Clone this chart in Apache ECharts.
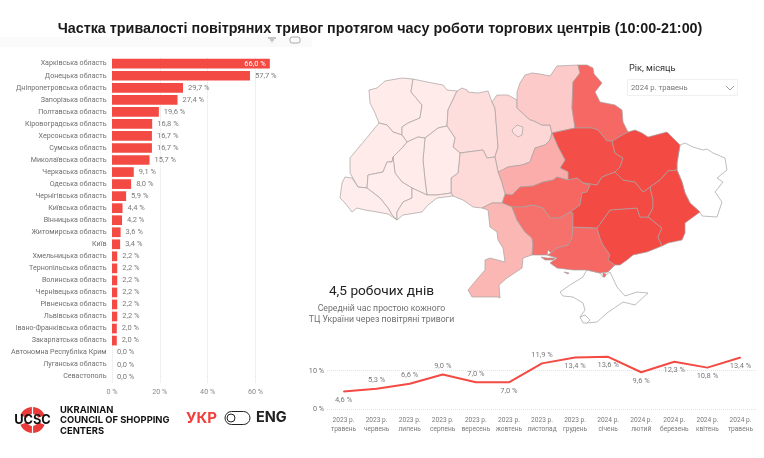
<!DOCTYPE html>
<html><head><meta charset="utf-8">
<style>html,body{margin:0;padding:0;background:#fff}#c{width:764px;height:458px}</style>
<script src="https://cdn.jsdelivr.net/npm/echarts@6/dist/echarts.min.js"></script>
</head><body><div id="c"></div>
<script>
const regions = ['Харківська область','Донецька область','Дніпропетровська область','Запорізька область','Полтавська область','Кіровоградська область','Херсонська область','Сумська область','Миколаївська область','Черкаська область','Одеська область','Чернігівська область','Київська область','Вінницька область','Житомирська область','Київ','Хмельницька область','Тернопільська область','Волинська область','Чернівецька область','Рівненська область','Львівська область','Івано-Франківська область','Закарпатська область','Автономна Республіка Крим','Луганська область','Севастополь'];
const regionShares = [66.0,57.7,29.7,27.4,19.6,16.8,16.7,16.7,15.7,9.1,8.0,5.9,4.4,4.2,3.6,3.4,2.2,2.2,2.2,2.2,2.2,2.2,2.0,2.0,0,0,0];
const months = ['2023 р.\nтравень','2023 р.\nчервень','2023 р.\nлипень','2023 р.\nсерпень','2023 р.\nвересень','2023 р.\nжовтень','2023 р.\nлистопад','2023 р.\nгрудень','2024 р.\nсічень','2024 р.\nлютий','2024 р.\nберезень','2024 р.\nквітень','2024 р.\nтравень'];
const monthlyShares = [4.6,5.3,6.6,9.0,7.0,7.0,11.9,13.4,13.6,9.6,12.3,10.8,13.4];
const monthlyLabelSides = ['bottom','top','top','top','top','bottom','top','bottom','bottom','bottom','bottom','bottom','bottom'];
const colorCap = 20;

// Base-map outlines (map geometry, not data)
const outlines = {
'Луганська область':[[[680,145],[685,143],[693,147],[703,150],[707,149],[713,153],[725,158],[727,170],[717,178],[723,182],[715,192],[722,202],[717,217],[702,216],[700,212],[690,203],[685,193],[682,182],[677,170],[677,163]]],
'Автономна Республіка Крим':[[[585,273],[583,277],[570,285],[560,292],[563,296],[573,297],[583,303],[585,310],[580,317],[587,323],[597,322],[607,313],[623,302],[635,305],[648,293],[637,292],[625,296],[617,287],[610,272],[603,277],[600,273],[587,270]]],
'Севастополь':[[[580,317],[583,323],[587,323],[590,320],[585,315]]],
'Волинська область':[[[369,90],[377,88],[385,81],[402,78],[413,79],[411,92],[422,105],[420,118],[408,123],[402,127],[402,135],[393,132],[387,125],[379,123],[375,113],[370,103]]],
'Рівненська область':[[[413,79],[427,82],[443,85],[447,90],[457,91],[448,110],[447,126],[438,128],[425,138],[418,137],[407,142],[402,135],[402,127],[408,123],[420,118],[422,105],[411,92]]],
'Житомирська область':[[[457,91],[462,88],[467,90],[468,92],[478,93],[488,91],[492,102],[495,108],[498,147],[495,157],[487,158],[483,150],[460,153],[453,147],[455,138],[447,126],[448,110]]],
'Київська область':[[[492,102],[497,95],[508,95],[517,100],[517,108],[530,120],[532,120],[542,125],[550,125],[552,133],[550,140],[545,145],[535,148],[530,162],[522,165],[508,167],[500,172],[498,172],[495,157],[498,147],[495,108]]],
'Київ':[[[512,130],[517,125],[523,127],[522,135],[518,137],[513,133]]],
'Чернігівська область':[[[517,100],[517,92],[520,83],[525,75],[532,73],[540,74],[550,76],[557,66],[578,65],[580,73],[573,82],[572,108],[575,128],[552,133],[550,125],[542,125],[532,120],[530,120],[517,108]]],
'Сумська область':[[[578,65],[587,65],[593,68],[594,74],[602,83],[595,92],[600,102],[615,105],[622,110],[623,122],[628,132],[612,141],[607,141],[598,130],[592,128],[575,128],[572,108],[573,82],[580,73]]],
'Полтавська область':[[[552,133],[575,128],[592,128],[598,130],[607,141],[612,141],[615,153],[623,158],[620,167],[615,172],[602,177],[597,185],[583,183],[577,178],[568,180],[568,172],[560,168],[565,160],[558,147]]],
'Черкаська область':[[[498,172],[508,167],[522,165],[530,162],[535,148],[545,145],[550,140],[552,133],[558,147],[565,160],[560,168],[568,172],[568,180],[557,177],[553,180],[543,182],[533,186],[520,187],[512,195],[505,194],[502,183]]],
'Кіровоградська область':[[[502,203],[505,194],[512,195],[520,187],[533,186],[543,182],[553,180],[557,177],[568,180],[577,178],[583,183],[590,185],[587,192],[582,193],[580,205],[570,212],[560,218],[550,218],[543,208],[533,205],[523,207],[512,207]]],
'Вінницька область':[[[460,153],[483,150],[487,158],[495,157],[498,172],[502,183],[505,194],[502,203],[492,203],[482,208],[473,207],[463,200],[453,196],[451,193],[451,178],[458,173]]],
'Хмельницька область':[[[425,138],[438,128],[447,126],[455,138],[453,147],[460,153],[458,173],[451,178],[451,193],[437,195],[427,195],[425,180],[423,160]]],
'Тернопільська область':[[[407,142],[418,137],[425,138],[423,160],[425,180],[427,195],[412,188],[402,182],[395,173],[393,157],[402,148]]],
'Львівська область':[[[379,123],[387,125],[393,132],[402,135],[407,142],[402,148],[393,157],[392,162],[387,162],[383,172],[368,175],[367,188],[358,187],[350,173],[350,158],[365,140]]],
'Івано-Франківська область':[[[367,188],[368,175],[383,172],[387,162],[392,162],[393,157],[395,173],[402,182],[412,188],[412,198],[403,202],[397,212],[397,220],[392,215],[388,208],[380,198]]],
'Закарпатська область':[[[345,177],[352,178],[358,187],[367,188],[380,198],[388,208],[392,215],[397,220],[388,214],[377,212],[365,210],[357,208],[352,212],[345,203],[340,198],[342,183]]],
'Чернівецька область':[[[397,220],[397,212],[403,202],[412,198],[412,188],[427,195],[437,195],[451,193],[453,196],[437,198],[428,205],[422,212],[403,215]]],
'Одеська область':[[[482,208],[488,210],[490,227],[497,232],[498,240],[503,248],[505,262],[490,258],[485,260],[485,270],[478,278],[468,290],[472,297],[498,297],[500,298],[499,285],[507,278],[522,268],[523,258],[532,255],[533,245],[532,238],[525,232],[517,220],[512,207],[502,203],[492,203]]],
'Миколаївська область':[[[512,207],[523,207],[533,205],[543,208],[550,218],[560,218],[570,212],[573,213],[573,227],[572,238],[568,245],[557,248],[551,253],[548,250],[547,255],[540,255],[532,255],[533,245],[532,238],[525,232],[517,220]]],
'Херсонська область':[[[551,253],[557,248],[568,245],[572,238],[573,227],[587,228],[597,228],[600,238],[603,245],[610,255],[608,260],[615,265],[608,272],[600,273],[587,270],[573,270],[557,268],[550,263],[557,258],[547,255]],[[541,257],[547,258],[555,258],[553,260],[545,260]],[[564,272],[569,273],[568,274]],[[603,273],[606,274],[605,277],[603,277]]],
'Запорізька область':[[[597,228],[610,210],[637,208],[640,217],[648,217],[662,228],[658,237],[662,246],[647,252],[633,255],[627,260],[620,265],[615,265],[608,260],[610,255],[603,245],[600,238]]],
'Дніпропетровська область':[[[583,183],[597,185],[602,177],[615,172],[623,180],[635,182],[643,192],[650,187],[653,200],[653,208],[648,217],[640,217],[637,208],[610,210],[597,228],[573,227],[573,213],[570,212],[580,205],[582,193],[587,192],[590,185]]],
'Харківська область':[[[612,141],[628,132],[635,130],[642,133],[648,137],[667,132],[680,145],[677,163],[677,170],[668,171],[660,180],[650,187],[643,192],[635,182],[623,180],[615,172],[620,167],[623,158],[615,153]]],
'Донецька область':[[[668,171],[677,170],[682,182],[685,193],[690,203],[700,212],[685,223],[685,233],[682,240],[668,243],[662,246],[658,237],[662,228],[648,217],[653,208],[653,200],[650,187],[660,180]]]
};
const geoJson = {type:'FeatureCollection',features:Object.keys(outlines).map(name=>({type:'Feature',properties:{name},geometry:{type:'MultiPolygon',coordinates:outlines[name].map(r=>[r])}}))};
echarts.registerMap('ua', geoJson);

const pct = v => v.toFixed(1).replace('.',',')+' %';
const FONT = 'Roboto,"Noto Sans",sans-serif';
const BRAND = 'Inter,"Open Sans",sans-serif';
const RED = '#f44a44';
const GREY = '#6f6f6f';
const txt = (x,y,text,style) => ({type:'text',x,y,silent:true,style:Object.assign({text,fontFamily:FONT,fill:GREY,verticalAlign:'middle'},style)});

const chart = echarts.init(document.getElementById('c'),null,{renderer:'canvas'});
chart.setOption({
  animation:false,
  backgroundColor:'#fff',
  title:{text:'Частка тривалості повітряних тривог протягом часу роботи торгових центрів (10:00-21:00)',left:375,textAlign:'center',top:17,textStyle:{fontFamily:'"Liberation Sans",Arial,sans-serif',fontSize:14.35,fontWeight:'bold',color:'#1a1a1a'}},
  visualMap:{show:false,seriesIndex:0,min:0,max:colorCap,inRange:{color:['#ffffff',RED]}},
  grid:[
    {left:112,top:57.7,width:165,height:325,outerBoundsMode:'none'},
    {left:327,top:351.4,width:430,height:57.9,outerBoundsMode:'none'}
  ],
  xAxis:[
    {gridIndex:0,type:'value',min:0,max:69,interval:20,axisLine:{show:false},axisTick:{show:false},
     splitLine:{showMaxLine:false,lineStyle:{type:'dotted',color:'#e2e2e2',width:1}},
     axisLabel:{margin:6,fontSize:7.2,color:'#8a8a8a',fontFamily:FONT,formatter:v=>v>60?'':v+' %'}},
    {gridIndex:1,type:'category',data:months,axisLine:{show:false},axisTick:{show:false},
     axisLabel:{margin:6,interval:0,fontSize:6.6,lineHeight:9.5,color:'#7a7a7a',fontFamily:FONT}}
  ],
  yAxis:[
    {gridIndex:0,type:'category',inverse:true,data:regions,axisLine:{show:false},axisTick:{show:false},
     axisLabel:{margin:5.5,interval:0,fontSize:7.1,color:GREY,fontFamily:FONT}},
    {gridIndex:1,type:'value',min:0,max:15,interval:10,axisLine:{show:false},axisTick:{show:false},
     splitLine:{showMaxLine:false,lineStyle:{type:'dotted',color:'#e2e2e2',width:1}},
     axisLabel:{margin:3,fontSize:7.2,color:GREY,fontFamily:FONT,formatter:v=>v>10?'':v+' %'}}
  ],
  series:[
    {type:'map',map:'ua',silent:true,left:340,top:65,width:387,height:258,
     projection:{project:p=>p,unproject:p=>p},
     label:{show:false},
     itemStyle:{borderColor:'#a8a0a0',borderWidth:0.7},
     data:regions.map((name,i)=>({name,value:Math.min(regionShares[i],colorCap)}))},
    {type:'bar',xAxisIndex:0,yAxisIndex:0,barWidth:9.7,itemStyle:{color:RED},
     data:regionShares.map((v,i)=>({value:v,label:i===0?{position:'insideRight',color:'#fff',distance:4}:{}})),
     label:{show:true,position:'right',distance:5,fontSize:7.5,color:'#7a7a7a',fontFamily:FONT,formatter:p=>pct(p.value)}},
    {type:'line',xAxisIndex:1,yAxisIndex:1,symbol:'circle',symbolSize:1,showAllSymbol:true,itemStyle:{color:RED},lineStyle:{color:RED,width:2},
     data:monthlyShares.map((v,i)=>({value:v,label:{position:monthlyLabelSides[i]}})),
     label:{show:true,distance:4,fontSize:7.5,color:'#7a7a7a',fontFamily:FONT,formatter:p=>pct(p.value)}}
  ],
  graphic:[
    {type:'rect',silent:true,shape:{x:0,y:37,width:312,height:10},style:{fill:'#fafafa'}},
    {type:'line',silent:true,shape:{x1:268,y1:38,x2:276,y2:38},style:{stroke:'#777',lineWidth:0.8}},
    {type:'line',silent:true,shape:{x1:270,y1:40,x2:274,y2:40},style:{stroke:'#777',lineWidth:0.8}},
    {type:'line',silent:true,shape:{x1:271.5,y1:42,x2:272.5,y2:42},style:{stroke:'#777',lineWidth:0.8}},
    {type:'rect',silent:true,shape:{x:290,y:37,width:10,height:6,r:2},style:{fill:'none',stroke:'#888',lineWidth:0.7}},
    txt(629,69,'Рік, місяць',{fontSize:9.2,fill:'#333'}),
    {type:'rect',silent:true,shape:{x:627.5,y:79.5,width:110,height:16},style:{fill:'#fff',stroke:'#f0f0f0',lineWidth:1}},
    txt(631,88,'2024 р. травень',{fontSize:7.7,fill:'#777'}),
    {type:'polyline',silent:true,shape:{points:[[726,86],[730,90],[734,86]]},style:{fill:'none',stroke:'#888',lineWidth:0.8}},
    txt(381.5,292,'4,5 робочих днів',{fontSize:13.7,fill:'#222',align:'center'}),
    txt(381.5,309,'Середній час простою кожного',{fontSize:8.7,fill:GREY,align:'center'}),
    txt(381.5,320,'ТЦ України через повітряні тривоги',{fontSize:8.7,fill:GREY,align:'center'}),
    {type:'sector',silent:true,shape:{cx:32.5,cy:420,r:13,r0:6,startAngle:Math.PI*1.12,endAngle:Math.PI*1.88},style:{fill:'#ea3a3a'}},
    {type:'sector',silent:true,shape:{cx:32.5,cy:420,r:13,r0:6,startAngle:Math.PI*0.12,endAngle:Math.PI*0.88},style:{fill:'#ea3a3a'}},
    {type:'line',silent:true,shape:{x1:32.5,y1:405,x2:32.5,y2:435},style:{stroke:'#fff',lineWidth:1.2}},
    txt(32.5,420.5,'UCSC',{fontSize:12.8,fontWeight:'bold',fill:'#111',align:'center',fontFamily:BRAND}),
    txt(60,410,'UKRAINIAN',{fontSize:9.4,fontWeight:'bold',fill:'#111',fontFamily:BRAND}),
    txt(60,420.5,'COUNCIL OF SHOPPING',{fontSize:9.4,fontWeight:'bold',fill:'#111',fontFamily:BRAND}),
    txt(60,431,'CENTERS',{fontSize:9.4,fontWeight:'bold',fill:'#111',fontFamily:BRAND}),
    txt(186,418,'УКР',{fontSize:15,fontWeight:'bold',fill:'#f0403c',fontFamily:BRAND}),
    {type:'rect',silent:true,shape:{x:225,y:411.5,width:25,height:13,r:6.5},style:{fill:'#fff',stroke:'#222',lineWidth:1}},
    {type:'circle',silent:true,shape:{cx:231,cy:418,r:4},style:{fill:'#fff',stroke:'#222',lineWidth:1}},
    txt(256,418,'ENG',{fontSize:14.5,fontWeight:'bold',fill:'#222',fontFamily:BRAND})
  ]
});
</script></body></html>
